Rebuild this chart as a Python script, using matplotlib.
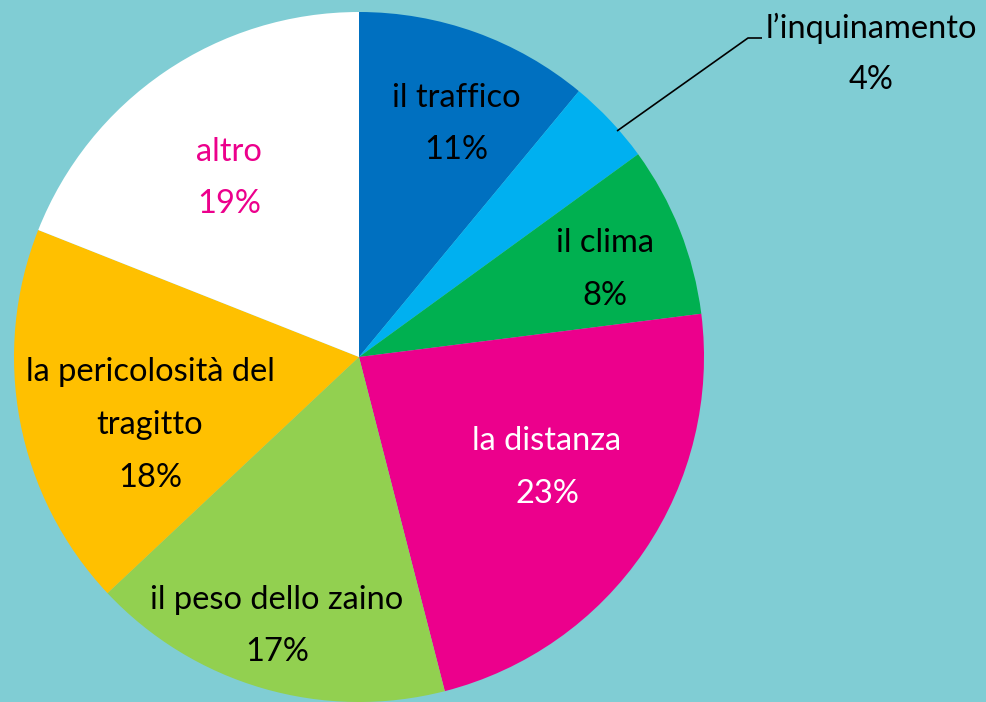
import matplotlib
matplotlib.use("Agg")
import matplotlib.pyplot as plt

categories = ["il traffico", "l\u2019inquinamento", "il clima", "la distanza",
              "il peso dello zaino", "la pericolosit\u00e0 del\ntragitto", "altro"]
values = [11, 4, 8, 23, 17, 18, 19]
colors = ["#0070C0", "#00B0F0", "#00B050", "#EC008C", "#92D050", "#FFC000", "#FFFFFF"]
label_colors = ["black", "black", "black", "white", "black", "black", "#EC008C"]
bg = "#80CDD4"

W, H = 986, 702
fig = plt.figure(figsize=(W / 100, H / 100), dpi=100, facecolor=bg)
ax = fig.add_axes([0, 0, 1, 1])
ax.set_facecolor(bg)

cx, cy, r = 359, 357, 345
wedges, _ = ax.pie(values, colors=colors, startangle=-90, counterclock=True,
                   center=(cx, cy), radius=r, frame=True,
                   wedgeprops=dict(linewidth=0))
ax.set_xlim(0, W)
ax.set_ylim(H, 0)
ax.set_aspect("equal")
ax.axis("off")

font = dict(family=["Lato", "DejaVu Sans"], fontsize=23.5)
label_pos = [(456, 98, 150), None, (605, 243, 296), (547, 441, 494),
             (277, 600, 652), (150, 372, 478), (229, 152, 204)]
for i, pos in enumerate(label_pos):
    if pos is None:
        continue
    x, y1, y2 = pos
    if "\n" in categories[i]:
        l1, l2 = categories[i].split("\n")
        ax.text(x, y1, l1, ha="center", va="center", color=label_colors[i], **font)
        ax.text(x, y1 + 53, l2, ha="center", va="center", color=label_colors[i], **font)
    else:
        ax.text(x, y1, categories[i], ha="center", va="center", color=label_colors[i], **font)
    ax.text(x, y2, f"{values[i]}%", ha="center", va="center", color=label_colors[i], **font)

# leader line for small slice
ax.plot([617, 748, 762], [131, 38, 38], color="black", lw=1.2, solid_capstyle="butt")
ax.text(871, 28, categories[1], ha="center", va="center", color=label_colors[1], **font)
ax.text(871, 80, f"{values[1]}%", ha="center", va="center", color=label_colors[1], **font)

fig.savefig("out.png", dpi=100, facecolor=bg)
